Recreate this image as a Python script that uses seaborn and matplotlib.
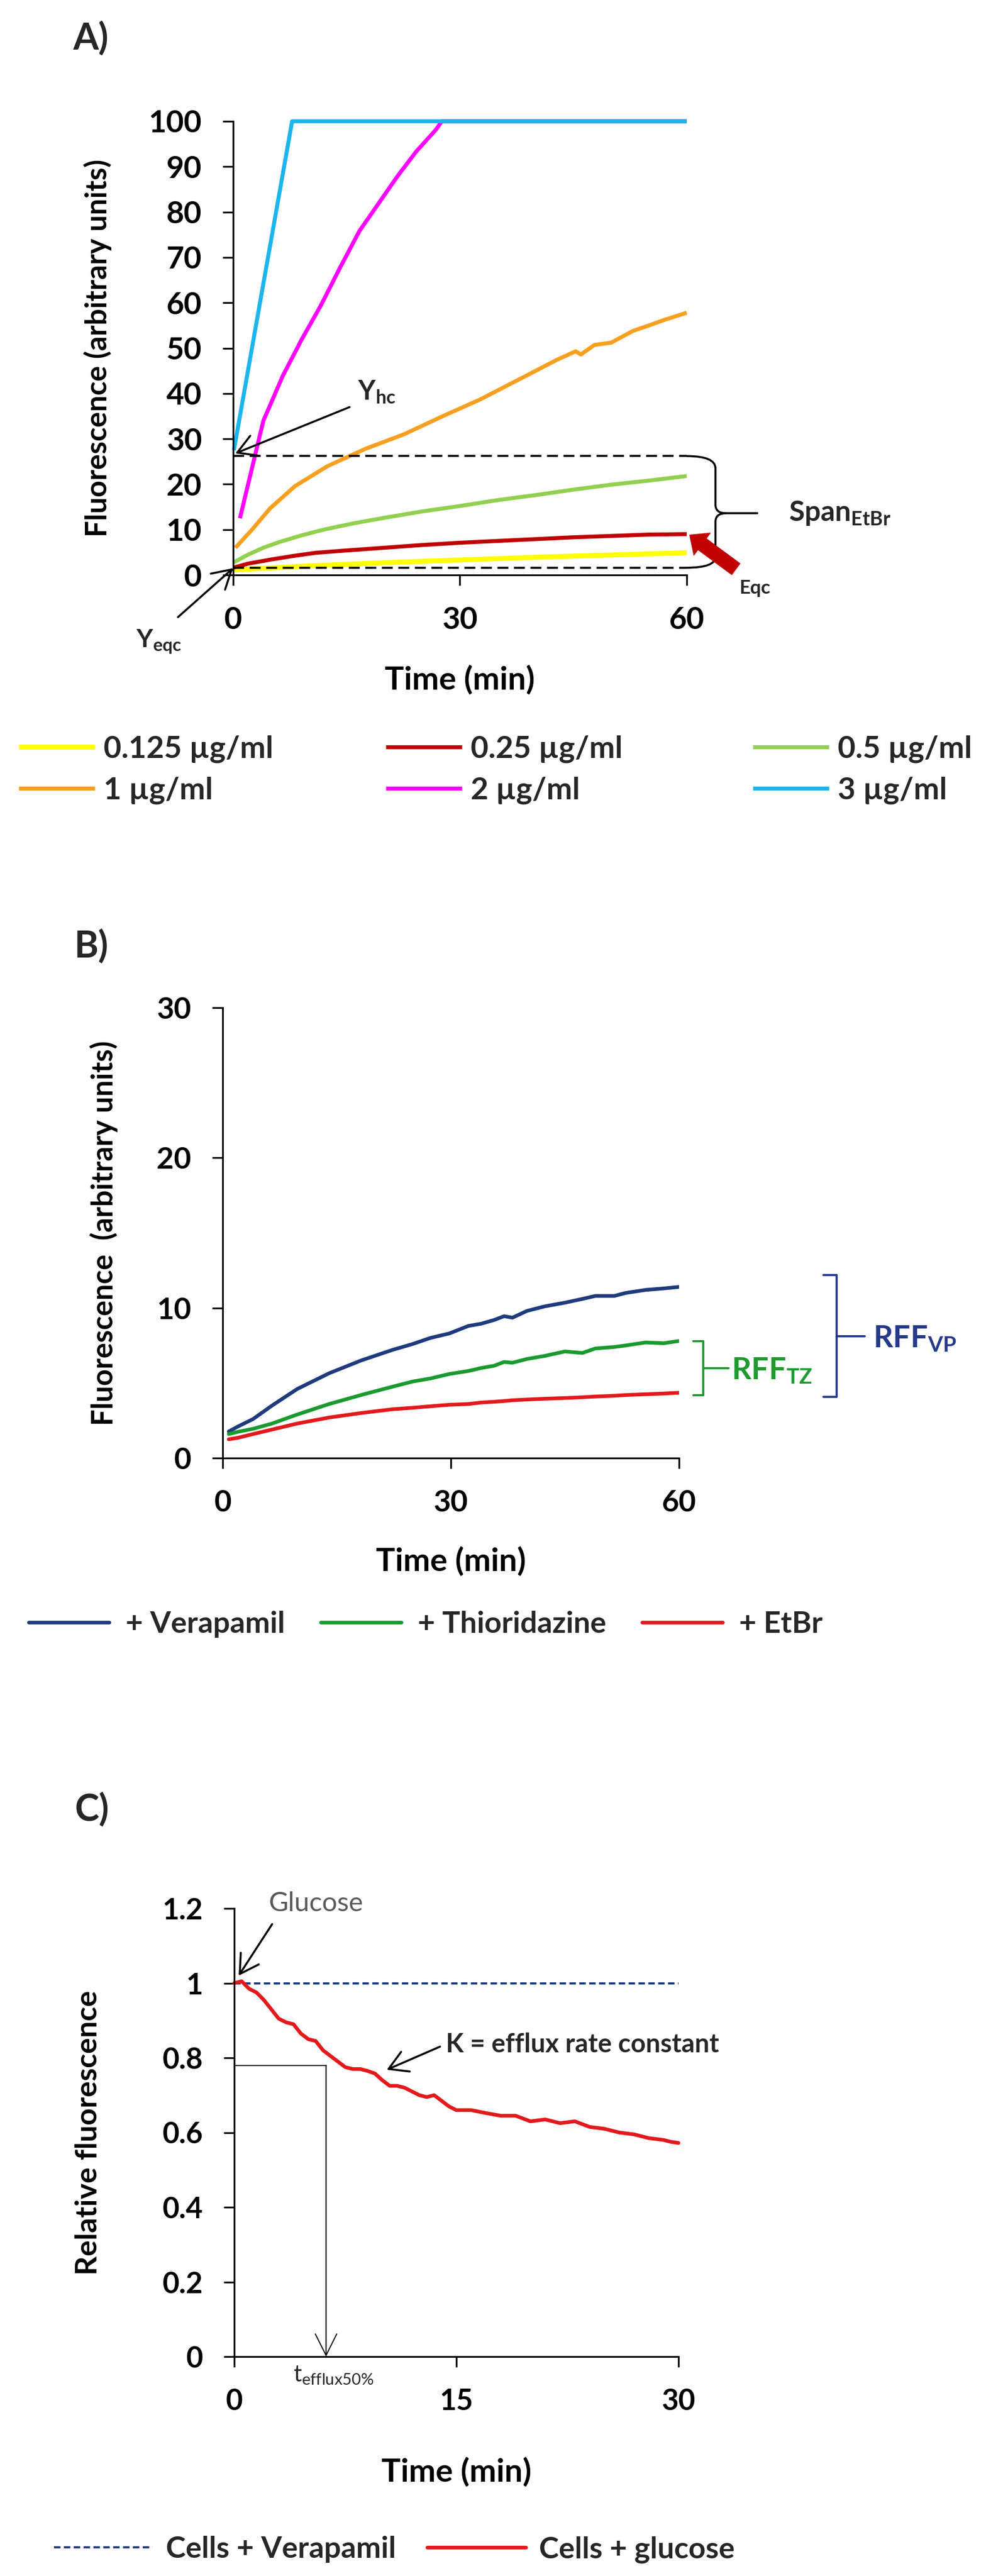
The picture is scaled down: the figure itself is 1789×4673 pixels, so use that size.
import matplotlib
matplotlib.use("Agg")
import matplotlib.pyplot as plt
from matplotlib.path import Path
from matplotlib.patches import PathPatch
import seaborn as sns
import pandas as pd

# ---------------- data: panel A (EtBr accumulation at several concentrations) -------------
a_labels = ["0.125 µg/ml", "0.25 µg/ml", "0.5 µg/ml", "1 µg/ml", "2 µg/ml", "3 µg/ml"]
a_colors = ["#FFFF00", "#C00000", "#92D050", "#F7A020", "#FF00FF", "#1CB5EE"]
t_0125 = [0, 10, 20, 30, 40, 50, 60]
y_0125 = [1.1, 2.0, 2.7, 3.3, 3.9, 4.4, 4.9]
t_025 = [0, 2, 5, 8, 11, 15, 20, 25, 30, 35, 40, 45, 50, 55, 60]
y_025 = [1.6, 2.5, 3.4, 4.2, 4.9, 5.4, 6.0, 6.6, 7.1, 7.5, 7.9, 8.3, 8.6, 8.9, 9.0]
t_05 = [0, 2, 4, 6, 9, 12, 16, 20, 25, 30, 35, 40, 45, 50, 55, 60]
y_05 = [2.7, 4.5, 6.0, 7.2, 8.7, 10.0, 11.4, 12.6, 14.0, 15.2, 16.5, 17.6, 18.8, 19.9, 20.8, 21.8]
t_1 = [0.3, 2.4, 4.9, 8.2, 12.5, 17.5, 22.6, 27.6, 32.7, 37.7, 42.8, 45.3, 46, 47.8, 50, 52.9, 55, 57, 60]
y_1 = [6.0, 9.8, 14.7, 19.6, 24.0, 27.8, 31.0, 34.9, 38.7, 43.0, 47.4, 49.3, 48.6, 50.7, 51.2, 53.8, 55.0, 56.2, 57.8]
t_2 = [0.9, 4.0, 6.6, 9.1, 11.6, 14.1, 16.7, 19.2, 21.7, 24.2, 26.8, 27.6, 60]
y_2 = [12.5, 34, 44, 52, 59.4, 67.6, 75.8, 81.8, 87.8, 93.3, 98.1, 100, 100]
t_3 = [0.1, 7.8, 60]
y_3 = [27.5, 100, 100]
a_yhc = 26.2
a_yeqc = 1.6

# ---------------- data: panel B ----------------
b_labels = ["+ Verapamil", "+ Thioridazine", "+ EtBr"]
b_colors = ["#1F3A7D", "#1A9A2E", "#E3191C"]
t_b = [0.8, 2, 4, 6.5, 9.8, 14, 18.2, 22.3, 25, 27.3, 29.8, 32.3, 34, 35.7, 37, 38.1, 40,
       42.3, 45, 47.3, 49, 51.5, 53, 55.6, 58, 60]
y_vp = [1.77, 2.1, 2.6, 3.5, 4.6, 5.65, 6.5, 7.2, 7.6, 8.0, 8.3, 8.8, 8.95, 9.2, 9.45, 9.35,
        9.8, 10.1, 10.35, 10.6, 10.8, 10.8, 11.0, 11.2, 11.3, 11.4]
y_tz = [1.6, 1.75, 1.95, 2.3, 2.9, 3.6, 4.2, 4.75, 5.1, 5.3, 5.6, 5.8, 6.0, 6.15, 6.4, 6.35,
        6.6, 6.8, 7.1, 7.0, 7.3, 7.4, 7.5, 7.7, 7.65, 7.8]
y_et = [1.25, 1.35, 1.6, 1.9, 2.3, 2.7, 3.0, 3.25, 3.35, 3.45, 3.55, 3.6, 3.7, 3.75, 3.8, 3.85,
        3.9, 3.95, 4.0, 4.05, 4.1, 4.15, 4.2, 4.25, 4.3, 4.35]

# ---------------- data: panel C ----------------
c_labels = ["Cells + Verapamil", "Cells + glucose"]
c_colors = ["#1F3A7D", "#E3191C"]
t_vp_c = [0, 30]
y_vp_c = [1.0, 1.0]
t_glu = [0, 0.5, 1, 1.5, 2, 2.5, 3, 3.5, 4, 4.5, 5, 5.5, 6, 6.5, 7, 7.5, 8, 8.5, 9, 9.5, 10,
         10.5, 11, 11.5, 12, 12.5, 13, 13.5, 14, 14.5, 15,
         16, 17, 18, 19, 20, 21, 22, 23, 24, 25, 26, 27, 28, 29, 29.5, 30]
y_glu = [1.0, 1.005, 0.985, 0.975, 0.955, 0.93, 0.905, 0.895, 0.89, 0.865, 0.85, 0.845, 0.82,
         0.805, 0.79, 0.775, 0.77, 0.77, 0.765, 0.758, 0.74, 0.725, 0.725, 0.72, 0.71, 0.70,
         0.695, 0.70, 0.685, 0.67, 0.66,
         0.66, 0.652, 0.645, 0.645, 0.63, 0.635, 0.625, 0.63, 0.615, 0.61, 0.60, 0.595, 0.585,
         0.58, 0.575, 0.572]
c_t50 = 6.2
c_y50 = 0.78

# ---------------- style ----------------
sns.set_theme(style="ticks")
plt.rcParams["font.family"] = ["Lato", "DejaVu Sans"]
plt.rcParams["font.weight"] = "bold"
plt.rcParams["mathtext.default"] = "regular"

W, H = 1790, 4673
fig = plt.figure(figsize=(W / 100, H / 100), dpi=100)


def frac_box(left, top, right, bottom):
    return [left / W, 1 - bottom / H, (right - left) / W, (bottom - top) / H]


def style(ax, fs=40):
    sns.despine(ax=ax)
    for s in ["left", "bottom"]:
        ax.spines[s].set_linewidth(2.3)
        ax.spines[s].set_color("black")
    ax.tick_params(direction="out", length=14, width=2.3, pad=27, labelsize=fs,
                   color="black", labelcolor="black")
    ax.grid(False)
    for lbl in ax.get_xticklabels() + ax.get_yticklabels():
        lbl.set_fontweight("bold")


def place_labels(ax, xlab, ylab, xoff, yoff, xfs=42, yfs=38):
    ax.set_xlabel(xlab, fontsize=xfs, fontweight="bold", color="black")
    ax.set_ylabel(ylab, fontsize=yfs, fontweight="bold", color="black")
    ax.xaxis.label.set_va("center")
    ax.yaxis.label.set_va("center")
    ax.xaxis.set_label_coords(0.5, xoff)
    ax.yaxis.set_label_coords(yoff, 0.5)


# =============== Panel A ===============
axA = fig.add_axes(frac_box(423, 220, 1246, 1043))
dfA = pd.concat([
    pd.DataFrame({"t": t, "y": y, "c": lab})
    for t, y, lab in zip([t_0125, t_025, t_05, t_1, t_2, t_3],
                         [y_0125, y_025, y_05, y_1, y_2, y_3], a_labels)
], ignore_index=True)
sns.lineplot(data=dfA, x="t", y="y", hue="c", hue_order=a_labels, palette=a_colors,
             estimator=None, sort=False, linewidth=5.2, legend=False, ax=axA)
a_handles = list(axA.lines[:6])
for ln in a_handles:
    ln.set_clip_on(False)
    ln.set_solid_capstyle("butt")
a_handles[0].set_linewidth(6.5)
axA.set_xlim(0, 60)
axA.set_ylim(0, 100)
axA.set_xticks([0, 30, 60])
axA.set_yticks(range(0, 101, 10))
style(axA)
place_labels(axA, "Time (min)", "Fluorescence (arbitrary units)", -0.232, -0.298)

dash = (0, (5.5, 2.8))
axA.plot([0, 60], [a_yhc, a_yhc], ls=dash, color="black", lw=2.6, clip_on=False)
axA.plot([0, 60], [a_yeqc, a_yeqc], ls=dash, color="black", lw=2.6, clip_on=False)
brace = Path(
    [(60, a_yhc), (63.8, a_yhc), (63.8, 23.5), (63.8, 15.5), (63.8, 13.6), (65.2, 13.6),
     (63.8, 13.6), (63.8, 11.7), (63.8, 4.0), (63.8, a_yeqc), (60, a_yeqc)],
    [Path.MOVETO, Path.CURVE3, Path.CURVE3, Path.LINETO, Path.CURVE3, Path.CURVE3,
     Path.CURVE3, Path.CURVE3, Path.LINETO, Path.CURVE3, Path.CURVE3])
axA.add_patch(PathPatch(brace, fill=False, lw=2.6, color="black", clip_on=False))
axA.plot([65.2, 69.3], [13.6, 13.6], color="black", lw=2.6, clip_on=False)
axA.text(73.5, 13.6, r"Span$_{EtBr}$", fontsize=37, fontweight="bold", ha="left", va="center")

axA.annotate("", xy=(0.3, 26.8), xytext=(15.4, 37),
             arrowprops=dict(arrowstyle="->,head_length=0.6,head_width=0.35", lw=2.6,
                             color="black", mutation_scale=40, shrinkA=0, shrinkB=0),
             annotation_clip=False)
axA.text(16.5, 40.3, r"Y$_{hc}$", fontsize=35, fontweight="bold", ha="left", va="center")

axA.annotate("", xy=(0.0, 1.5), xytext=(-7.3, -9.3),
             arrowprops=dict(arrowstyle="->,head_length=0.6,head_width=0.35", lw=2.6,
                             color="black", mutation_scale=40, shrinkA=0, shrinkB=0),
             annotation_clip=False)
axA.text(-9.8, -14.7, r"Y$_{eqc}$", fontsize=33, fontweight="bold", ha="center", va="center")

axA.annotate("", xy=(60.4, 8.8), xytext=(66.5, 1.3),
             arrowprops=dict(arrowstyle="simple,head_length=0.5,head_width=0.9,tail_width=0.45",
                             color="#C00000", mutation_scale=40, shrinkA=0, shrinkB=0),
             annotation_clip=False)
axA.text(69.0, -2.9, "Eqc", fontsize=25, fontweight="bold", ha="center", va="center")

fig.text(132 / W, 1 - 90 / H, "A)", fontsize=48, fontweight="bold", ha="left", va="baseline")

a_cols_x = [34, 700, 1366]
for i, x0 in enumerate(a_cols_x):
    fig.legend(handles=[a_handles[i], a_handles[i + 3]],
               labels=[a_labels[i], a_labels[i + 3]],
               loc="upper left", bbox_to_anchor=(x0 / W, 1 - 1333 / H),
               frameon=False, fontsize=40, handlelength=2.48, handletextpad=0.3,
               borderpad=0, borderaxespad=0, labelspacing=0.45)

# =============== Panel B ===============
axB = fig.add_axes(frac_box(404, 1828, 1232, 2645))
dfB = pd.concat([
    pd.DataFrame({"t": t_b, "y": y, "c": lab})
    for y, lab in zip([y_vp, y_tz, y_et], b_labels)
], ignore_index=True)
sns.lineplot(data=dfB, x="t", y="y", hue="c", hue_order=b_labels, palette=b_colors,
             estimator=None, sort=False, linewidth=4.8, legend=False, ax=axB)
b_handles = list(axB.lines[:3])
axB.set_xlim(0, 60)
axB.set_ylim(0, 30)
axB.set_xticks([0, 30, 60])
axB.set_yticks([0, 10, 20, 30])
style(axB, fs=39)
place_labels(axB, "Time (min)", "Fluorescence  (arbitrary units)", -0.230, -0.260)

navy_b = "#26398A"
green_b = "#1E9A2E"
axB.plot([79, 80.7, 80.7, 79], [12.2, 12.2, 4.06, 4.06], color=navy_b, lw=2.8,
         clip_on=False, solid_joinstyle="round")
axB.plot([80.7, 84.4], [8.1, 8.1], color=navy_b, lw=2.8, clip_on=False)
axB.text(85.5, 7.95, r"RFF$_{VP}$", fontsize=40, color=navy_b, fontweight="bold",
         ha="left", va="center")
axB.plot([61.9, 63.2, 63.2, 61.9], [7.8, 7.8, 4.2, 4.2], color=green_b, lw=2.8,
         clip_on=False, solid_joinstyle="round")
axB.plot([63.2, 66.5], [6.0, 6.0], color=green_b, lw=2.8, clip_on=False)
axB.text(66.9, 5.83, r"RFF$_{TZ}$", fontsize=40, color=green_b, fontweight="bold",
         ha="left", va="center")

fig.text(135 / W, 1 - 1737 / H, "B)", fontsize=48, fontweight="bold", ha="left", va="baseline")
fig.legend(handles=b_handles, labels=b_labels, loc="upper left", ncol=3,
           bbox_to_anchor=(52 / W, 1 - 2922 / H), frameon=False, fontsize=39,
           handlelength=2.7, handletextpad=0.55, columnspacing=1.2,
           borderpad=0, borderaxespad=0)

# =============== Panel C ===============
axC = fig.add_axes(frac_box(425, 3462, 1231, 4275))
dfC = pd.concat([
    pd.DataFrame({"t": t_vp_c, "y": y_vp_c, "c": c_labels[0]}),
    pd.DataFrame({"t": t_glu, "y": y_glu, "c": c_labels[1]}),
], ignore_index=True)
sns.lineplot(data=dfC, x="t", y="y", hue="c", hue_order=c_labels, palette=c_colors,
             estimator=None, sort=False, linewidth=4.8, legend=False, ax=axC)
c_handles = list(axC.lines[:2])
c_handles[0].set_linestyle((0, (3, 1.6)))
c_handles[0].set_linewidth(2.8)
for ln in c_handles:
    ln.set_clip_on(False)
axC.set_xlim(0, 30)
axC.set_ylim(0, 1.2)
axC.set_xticks([0, 15, 30])
axC.set_yticks([0, 0.2, 0.4, 0.6, 0.8, 1.0, 1.2])
axC.set_yticklabels(["0", "0.2", "0.4", "0.6", "0.8", "1", "1.2"])
style(axC, fs=38)
place_labels(axC, "Time (min)", "Relative fluorescence", -0.258, -0.328, yfs=39)

axC.plot([0, c_t50], [c_y50, c_y50], color="black", lw=1.4)
axC.annotate("", xy=(c_t50, 0.0), xytext=(c_t50, c_y50),
             arrowprops=dict(arrowstyle="->,head_length=0.7,head_width=0.35", lw=1.4,
                             color="black", mutation_scale=40, shrinkA=0, shrinkB=0),
             annotation_clip=False)
axC.text(6.7, -0.05, r"t$_{efflux50\%}$", fontsize=30, fontweight="normal",
         ha="center", va="center")
axC.text(2.35, 1.213, "Glucose", fontsize=35, fontweight="normal", color="#595959",
         ha="left", va="center")
axC.annotate("", xy=(0.3, 1.02), xytext=(2.56, 1.158),
             arrowprops=dict(arrowstyle="->,head_length=0.6,head_width=0.35", lw=2.6,
                             color="black", mutation_scale=40, shrinkA=0, shrinkB=0),
             annotation_clip=False)
axC.text(14.3, 0.836, "K = efflux rate constant", fontsize=34, fontweight="bold",
         ha="left", va="center")
axC.annotate("", xy=(10.3, 0.768), xytext=(13.9, 0.83),
             arrowprops=dict(arrowstyle="->,head_length=0.6,head_width=0.35", lw=2.6,
                             color="black", mutation_scale=40, shrinkA=0, shrinkB=0),
             annotation_clip=False)

fig.text(135 / W, 1 - 3303 / H, "C)", fontsize=48, fontweight="bold", ha="left", va="baseline")
fig.legend(handles=c_handles, labels=c_labels, loc="upper left", ncol=2,
           bbox_to_anchor=(98 / W, 1 - 4600 / H), frameon=False, fontsize=39,
           handlelength=3.3, handletextpad=0.45, columnspacing=1.05,
           borderpad=0, borderaxespad=0)

fig.savefig("out.png", dpi=100)
